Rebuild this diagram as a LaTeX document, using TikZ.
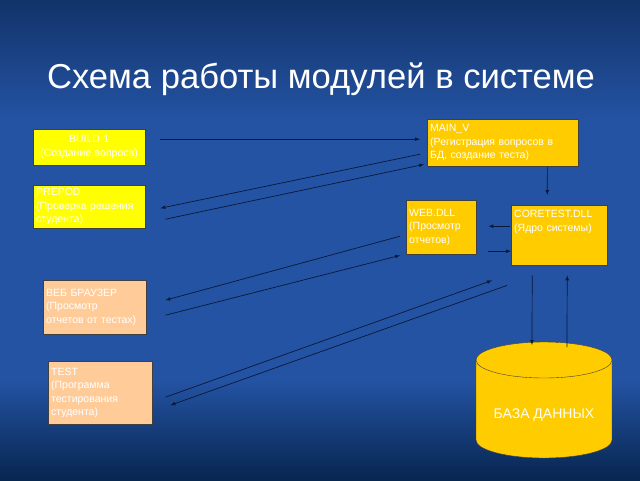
\documentclass[tikz,border=0pt]{standalone}
\usepackage{fontspec}
\setmainfont{Liberation Sans}
\usepackage{tikz}
\usepackage{xcolor}
\usetikzlibrary{calc}
\definecolor{bgmid}{HTML}{2453A3}
\definecolor{bgtop}{HTML}{12336A}
\definecolor{bgbottom}{HTML}{072650}
\definecolor{boxyellow}{HTML}{FFFF00}
\definecolor{boxpeach}{HTML}{FFCC99}
\definecolor{boxgold}{HTML}{FFCC00}
\definecolor{linkcolor}{HTML}{0A1838}
\colorlet{boxtext}{white}
\colorlet{boxline}{black!75}
\newcommand{\boxfont}{\fontsize{10.5}{13.5}\selectfont}
\tikzstyle{modbox} = [
    draw=boxline,
    thin,
    rectangle,
    anchor=north west,
    inner sep=3pt,
    text=boxtext,
    font=\boxfont,
    align=left
    ]
\tikzstyle{ybox} = [modbox, fill=boxyellow]
\tikzstyle{pbox} = [modbox, fill=boxpeach]
\tikzstyle{gbox} = [modbox, fill=boxgold]
\tikzstyle{conn} = [draw=linkcolor, line width=0.7pt, -latex]

\begin{document}
\begin{tikzpicture}[x=1pt,y=-1pt]
% background
\fill[bgmid] (0,0) rectangle (640,480);
\shade[top color=bgtop, bottom color=bgmid] (0,0) rectangle (640,120);
\shade[top color=bgmid, bottom color=bgbottom] (0,380) rectangle (640,480);
\useasboundingbox (0,0) rectangle (640,480);

\node[text=white, font=\fontsize{34.6}{40}\selectfont, anchor=base] (title) at (321,88) {Схема работы модулей в системе};

% left column
\node[ybox, minimum width=112pt, minimum height=36pt, text width=106pt, align=center] (build) at (33,129) {BUILD 1\\(Создание вопроса)};
\node[ybox, minimum width=112pt, minimum height=43pt, text width=106pt] (prepod) at (33,185) {PREPOD\\(Проверка решения\\студента)};
\node[pbox, minimum width=103pt, minimum height=54pt, text width=97pt] (browser) at (43,280) {ВЕБ БРАУЗЕР\\(Просмотр\\отчетов от тестах)};
\node[pbox, minimum width=104pt, minimum height=63pt, text width=98pt] (test) at (48,361) {TEST\\(Программа\\тестирования\\студента)};

% right column
\node[gbox, minimum width=151pt, minimum height=47pt, text width=145pt] (mainv) at (427,119) {MAIN\_V\\(Регистрация вопросов в\\БД, создание теста)};
\node[gbox, minimum width=70pt, minimum height=54pt, text width=64pt] (webdll) at (406,200) {WEB.DLL\\(Просмотр\\отчетов)};
\node[gbox, minimum width=96pt, minimum height=60pt, text width=90pt, text height=8pt, text depth=43pt] (core) at (511,205) {CORETEST.DLL\\(Ядро системы)};

% database
\fill[boxgold] (476,360) rectangle (612,440);
\fill[boxgold] (544,440) ellipse[x radius=68, y radius=18];
\draw[boxline, thin] (476,360) -- (476,440) arc[start angle=180, end angle=0, x radius=68, y radius=18] -- (612,360);
\draw[boxline, thin, fill=boxgold] (544,360) ellipse[x radius=68, y radius=18];
\node[text=white, font=\fontsize{14}{16}\selectfont, anchor=north, minimum width=136pt, inner sep=0pt, text height=76pt, text depth=40pt] (db) at (544,342) {БАЗА ДАННЫХ};

% links
\draw[conn] ($(build.east)+(15,-8)$) -- ($(mainv.west)+(-7,-3.5)$);
\draw[conn] ($(mainv.west)+(-7,11.5)$) -- ($(prepod.east)+(15,1.5)$);
\draw[conn] ($(prepod.east)+(20,12.5)$) -- ($(mainv.south west)+(-3,-2)$);
\draw[conn] ($(webdll.west)+(-6,9)$) -- ($(browser.east)+(19,-7)$);
\draw[conn] ($(browser.east)+(19,8)$) -- ($(webdll.south west)+(-6,1)$);
\draw[conn] ($(test.east)+(13,4.5)$) -- ($(core.south west)+(-19,15)$);
\draw[conn] ($(core.south west)+(-4,20)$) -- ($(test.east)+(18,12.5)$);
\draw[conn] ($(mainv.south east)+(-31,1)$) -- ($(core.north)+(-12,-10)$);
\draw[conn] ($(core.west)+(-1,-9)$) -- ($(webdll.east)+(12,-1)$);
\draw[conn] ($(webdll.east)+(12,24)$) -- ($(core.west)+(0,16)$);
\draw[conn] ($(core.south)+(-27,10)$) -- ($(db.north)+(-12,3)$);
\draw[conn] ($(db.north)+(23,5)$) -- ($(core.south)+(8,10)$);
\end{tikzpicture}
\end{document}
